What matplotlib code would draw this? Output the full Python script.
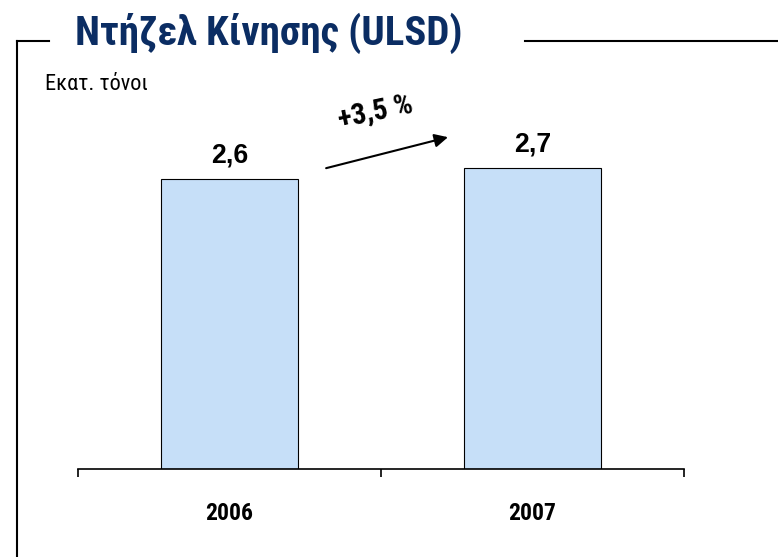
import matplotlib
matplotlib.use("Agg")
import matplotlib.pyplot as plt
from matplotlib.lines import Line2D
from matplotlib import font_manager

years = ["2006", "2007"]
values = [2.6, 2.7]
value_labels = ["2,6", "2,7"]
growth_label = "+3,5 %"

# narrow font for the title and year labels, if one is there
names = {f.name for f in font_manager.fontManager.ttflist}
cond = "Liberation Sans"
for cand in ["Liberation Sans Narrow", "Roboto Condensed", "Fira Sans Condensed"]:
    if cand in names:
        cond = cand
        break
NARROW = [cond, "Liberation Sans", "DejaVu Sans"]
plt.rcParams["font.family"] = ["Liberation Sans", "DejaVu Sans"]

W, H = 778, 557
fig = plt.figure(figsize=(W / 100, H / 100), dpi=100)


def px(x, y):
    return x / W, 1 - y / H


frame = [((17, 41), (17, 557)), ((17, 41), (49, 41)), ((525, 41), (778, 41))]
for (a, b) in frame:
    (x0, y0), (x1, y1) = px(*a), px(*b)
    fig.add_artist(Line2D([x0, x1], [y0, y1], color="black", lw=1.5))

title = fig.text(75 / W, 1 - 45 / H, "Ντήζελ Κίνησης (ULSD)", fontsize=29, fontweight="bold",
                 color="#0B2D63", va="baseline", ha="left", family=NARROW)
sub = fig.text(45 / W, 1 - 90 / H, "Εκατ. τόνοι", fontsize=16, va="baseline", ha="left",
               family=NARROW)

ax = fig.add_axes([78 / W, 88 / H, 606 / W, 424 / H])
x = list(range(len(years)))
bars = ax.bar(x, values, width=0.45, color="#C6DFF8", edgecolor="black", linewidth=0.8)
vals = []
for xi, v, lab in zip(x, values, value_labels):
    vals.append(ax.annotate(lab, (xi, v), xytext=(0, 11.5), textcoords="offset points",
                            ha="center", va="baseline", fontsize=19, fontweight="bold"))

ax.set_xlim(-0.5, 1.5)
ax.set_ylim(0, 3.8)
for s in ["top", "right", "left"]:
    ax.spines[s].set_visible(False)
ax.spines["bottom"].set_linewidth(1.2)
ax.set_yticks([])
ax.set_xticks(x)
ax.set_xticklabels(years, fontsize=17, fontweight="bold", family=NARROW)
ax.set_xticks([-0.5, 0.5, 1.5], minor=True)
ax.tick_params(axis="x", which="minor", length=6, width=1.2, direction="out")
ax.tick_params(axis="x", which="major", length=0, pad=24)

ax.annotate("", xy=(0.73, 2.98), xytext=(0.31, 2.69),
            arrowprops=dict(arrowstyle="-|>", color="black", lw=1.5, mutation_scale=20))
g = ax.text(0.48, 3.2, growth_label, ha="center", va="center",
            fontsize=17, fontweight="bold", family=NARROW)

# scale fonts so each text is as wide as in the reference
fig.canvas.draw()
renderer = fig.canvas.get_renderer()
targets = [(title, 387), (g, 76)] + [(t, 37) for t in vals] \
    + [(t, 48) for t in ax.get_xticklabels()]
for t, target in targets:
    w = t.get_window_extent(renderer).width
    t.set_fontsize(t.get_fontsize() * target / w)
g.set_rotation(12)

fig.savefig("out.png", dpi=100)
